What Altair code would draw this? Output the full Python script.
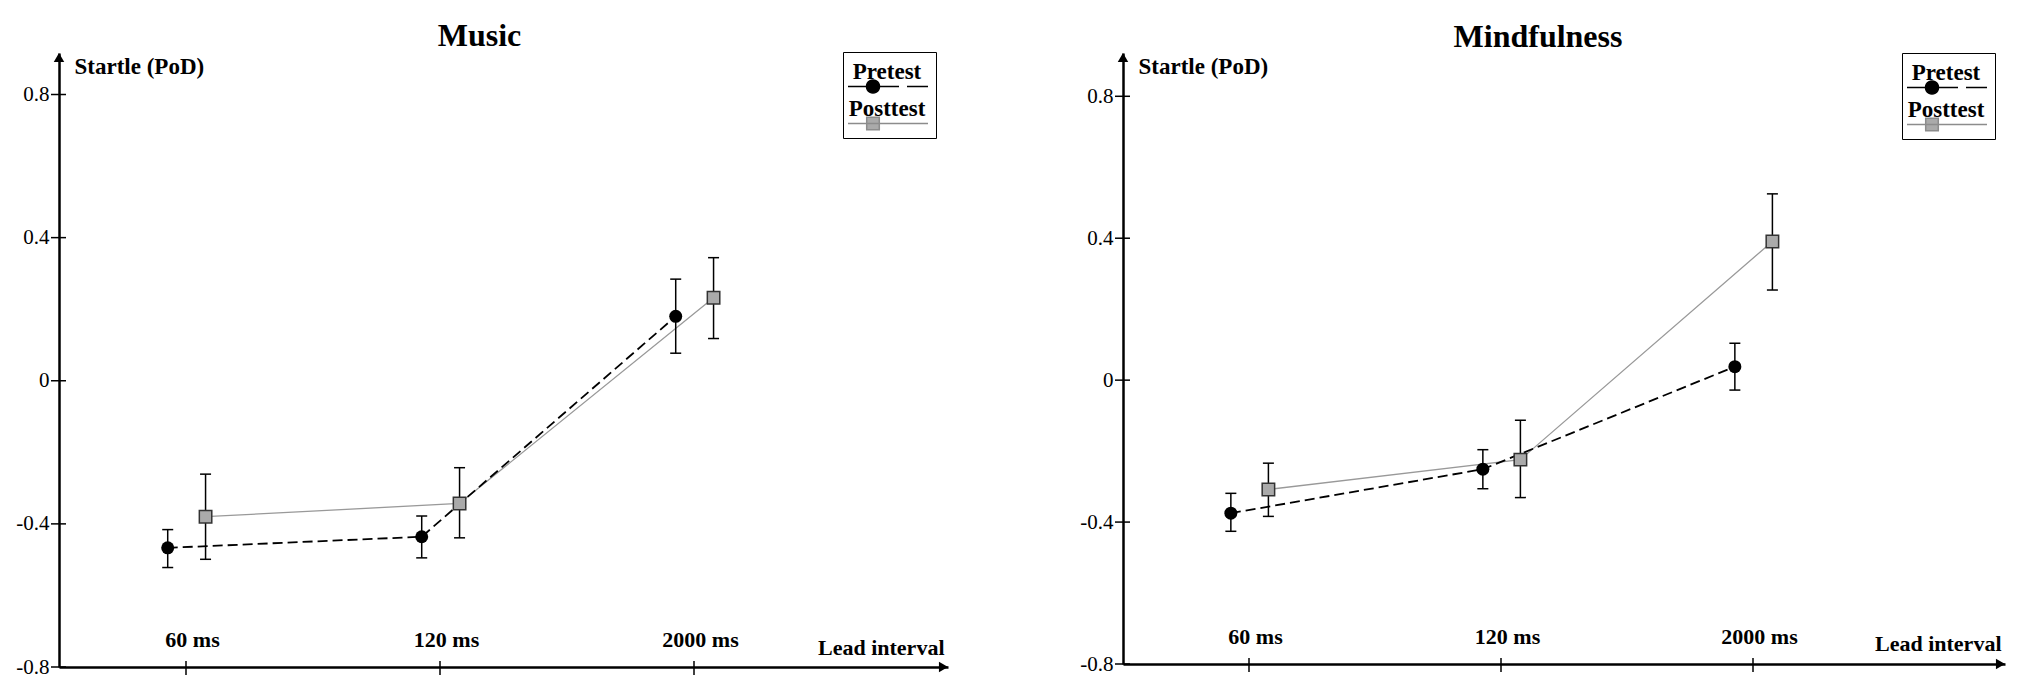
import json
import math
import altair as alt
import pandas as pd

FONT = "Liberation Serif"

intervals = ["60 ms", "120 ms", "2000 ms"]
series_names = ["Pretest", "Posttest"]
y_ticks = [-0.8, -0.4, 0, 0.4, 0.8]

music_pre_mean = [-0.467, -0.436, 0.180]
music_pre_lo = [-0.522, -0.495, 0.077]
music_pre_hi = [-0.416, -0.378, 0.284]
music_post_mean = [-0.380, -0.343, 0.232]
music_post_lo = [-0.499, -0.439, 0.118]
music_post_hi = [-0.261, -0.243, 0.344]

mind_pre_mean = [-0.375, -0.251, 0.038]
mind_pre_lo = [-0.426, -0.306, -0.028]
mind_pre_hi = [-0.319, -0.196, 0.104]
mind_post_mean = [-0.308, -0.224, 0.391]
mind_post_lo = [-0.384, -0.331, 0.254]
mind_post_hi = [-0.234, -0.113, 0.525]

# horizontal dodge of the two series around each lead interval
dodge = {"Pretest": -0.072, "Posttest": 0.077}


# ---- legend symbols (custom paths: sample line + marker) ----
def fmt(v):
    return f"{v:.3f}"


U = 6.5      # px per path unit for symbolSize 169
X0 = -11.5   # px: start of the sample line relative to the symbol centre
yl = 8 / U
mx = (X0 + 25) / U


def seg(x0, x1):
    return f"M{fmt((x0 + X0) / U)},{fmt(yl)}L{fmt((x1 + X0) / U)},{fmt(yl)}"


circle = "M" + "L".join(
    f"{fmt(mx + math.cos(2 * math.pi * k / 24))},{fmt(yl + math.sin(2 * math.pi * k / 24))}"
    for k in range(24)
) + "Z"
sq = 6.3 / U
square = (
    f"M{fmt(mx - sq)},{fmt(yl - sq)}L{fmt(mx + sq)},{fmt(yl - sq)}"
    f"L{fmt(mx + sq)},{fmt(yl + sq)}L{fmt(mx - sq)},{fmt(yl + sq)}Z"
)
pre_path = seg(0, 51) + seg(59, 80) + circle
post_path = seg(0, 80) + square


def make_panel(title, pre_mean, pre_lo, pre_hi, post_mean, post_lo, post_hi,
               width, height, ytop, legend_x, legend_y, xtitle_x, xtitle_y, title_dx):
    rows = []
    for s, m, lo, hi in [("Pretest", pre_mean, pre_lo, pre_hi),
                         ("Posttest", post_mean, post_lo, post_hi)]:
        for i, lab in enumerate(intervals):
            rows.append({"series": s, "interval": lab,
                         "pos": i + 0.5 + dodge[s],
                         "val": m[i], "lo": lo[i], "hi": hi[i]})
    df = pd.DataFrame(rows)

    xs = alt.Scale(domain=[0, len(intervals) + 0.5], nice=False, zero=False)
    ys = alt.Scale(domain=[-0.8, ytop], nice=False, zero=False)

    x_axis = alt.Axis(
        values=[i + 0.5 for i in range(len(intervals))],
        labelExpr=f"{json.dumps(intervals)}[floor(datum.value)]",
        ticks=False, grid=False, domainColor="black", domainWidth=2.5,
        labelFont=FONT, labelFontSize=22, labelFontWeight="bold", labelColor="black",
        labelBaseline="alphabetic", labelPadding=-21, labelOffset=6,
        labelFlush=False, labelOverlap=False,
        title="Lead interval", titleX=xtitle_x, titleY=xtitle_y, titleAlign="right",
        titleBaseline="alphabetic", titleFont=FONT, titleFontSize=22,
        titleFontWeight="bold", titleColor="black",
    )
    y_axis = alt.Axis(
        values=y_ticks,
        labelExpr="(datum.value < 0 ? '-' : '') + (datum.value == 0 ? '0' : format(abs(datum.value), '.1f'))",
        ticks=False, grid=False, domainColor="black", domainWidth=2.5,
        labelFont=FONT, labelFontSize=21, labelColor="black", labelPadding=10,
        labelFlush=False, labelOverlap=False,
        title="Startle (PoD)", titleAngle=0, titleX=15, titleY=20, titleAlign="left",
        titleBaseline="alphabetic", titleFont=FONT, titleFontSize=23,
        titleFontWeight="bold", titleColor="black",
    )

    def X(f):
        return alt.X(f, type="quantitative", scale=xs, axis=x_axis)

    def Y(f):
        return alt.Y(f, type="quantitative", scale=ys, axis=y_axis)

    base = alt.Chart(df)
    pre = base.transform_filter(alt.datum.series == "Pretest")
    post = base.transform_filter(alt.datum.series == "Posttest")

    pre_line = pre.mark_line(color="black", strokeWidth=1.8, strokeDash=[10, 5]).encode(
        x=X("pos"), y=Y("val"))
    post_line = post.mark_line(color="#999999", strokeWidth=1.3).encode(
        x=X("pos"), y=Y("val"))
    err = base.mark_rule(color="black", strokeWidth=1.5).encode(
        x=X("pos"), y=Y("lo"), y2=alt.Y2("hi"))
    caps = base.transform_fold(["lo", "hi"], as_=["k", "cap"]).mark_tick(
        orient="horizontal", size=11, thickness=1.5, color="black", opacity=1
    ).encode(x=X("pos"), y=Y("cap"))
    pre_pts = pre.mark_point(shape="circle", filled=True, color="black", size=169,
                             opacity=1).encode(x=X("pos"), y=Y("val"))
    post_pts = post.mark_point(shape="square", filled=True, fill="#aaaaaa",
                               stroke="#333333", strokeWidth=1.5, size=155,
                               opacity=1).encode(x=X("pos"), y=Y("val"))

    ytick_df = pd.DataFrame({"pos": [0] * len(y_ticks), "val": y_ticks})
    xtick_df = pd.DataFrame({"pos": [i + 0.5 for i in range(len(intervals))],
                             "val": [-0.8] * len(intervals)})
    yticks = alt.Chart(ytick_df).mark_tick(
        orient="horizontal", size=15, thickness=1.5, color="black", opacity=1, xOffset=-0.5
    ).encode(x=X("pos"), y=Y("val"))
    xticks = alt.Chart(xtick_df).mark_tick(
        orient="vertical", size=14, thickness=1.5, color="black", opacity=1, yOffset=1
    ).encode(x=X("pos"), y=Y("val"))

    up_df = pd.DataFrame({"pos": [0], "val": [ytop]})
    right_df = pd.DataFrame({"pos": [len(intervals) + 0.5], "val": [-0.8]})
    up_arrow = alt.Chart(up_df).mark_point(
        shape="triangle-up", filled=True, color="black", size=110, opacity=1, yOffset=4.5
    ).encode(x=X("pos"), y=Y("val"))
    right_arrow = alt.Chart(right_df).mark_point(
        shape="triangle-right", filled=True, color="black", size=110, opacity=1, xOffset=-4.5
    ).encode(x=X("pos"), y=Y("val"))

    leg = alt.Legend(
        orient="none", legendX=legend_x, legendY=legend_y,
        title="\u00a0", titleFontSize=4, titlePadding=6,
        padding=5, strokeColor="black", fillColor="white",
        symbolSize=169, symbolStrokeWidth=1.5, symbolOffset=0,
        labelOffset=16, labelAlign="center", labelBaseline="alphabetic",
        labelFont=FONT, labelFontSize=23, labelFontWeight="bold", labelColor="black",
        labelLimit=300, rowPadding=0,
    )
    legend_layer = base.transform_filter("false").mark_point(
        filled=True, size=169, opacity=1
    ).encode(
        x=X("pos"), y=Y("val"),
        shape=alt.Shape("series:N", scale=alt.Scale(domain=series_names, range=[pre_path, post_path]), legend=leg),
        fill=alt.Fill("series:N", scale=alt.Scale(domain=series_names, range=["black", "#aaaaaa"]), legend=leg),
        stroke=alt.Stroke("series:N", scale=alt.Scale(domain=series_names, range=["black", "#8c8c8c"]), legend=leg),
    )

    return alt.layer(
        post_line, pre_line, err, caps, post_pts, pre_pts,
        yticks, xticks, up_arrow, right_arrow, legend_layer
    ).properties(
        width=width, height=height,
        title=alt.TitleParams(title, font=FONT, fontSize=32, fontWeight="bold",
                              color="black", anchor="middle", baseline="alphabetic",
                              offset=-26, dx=title_dx),
    )


left = make_panel("Music", music_pre_mean, music_pre_lo, music_pre_hi,
                  music_post_mean, music_post_lo, music_post_hi,
                  889, 614, 0.916, 784, -1, 885, -13, -24)
right = make_panel("Mindfulness", mind_pre_mean, mind_pre_lo, mind_pre_hi,
                   mind_post_mean, mind_post_lo, mind_post_hi,
                   882, 611, 0.922, 779, 0, 878, -14, -26)

chart = alt.hconcat(left, right, spacing=130).resolve_scale(
    shape="independent", fill="independent", stroke="independent"
).properties(
    padding={"left": 7, "top": 11, "right": 5, "bottom": 5},
    background="white",
).configure_view(stroke=None)

chart.save("out.html", embed_options={"renderer": "svg", "actions": False})
